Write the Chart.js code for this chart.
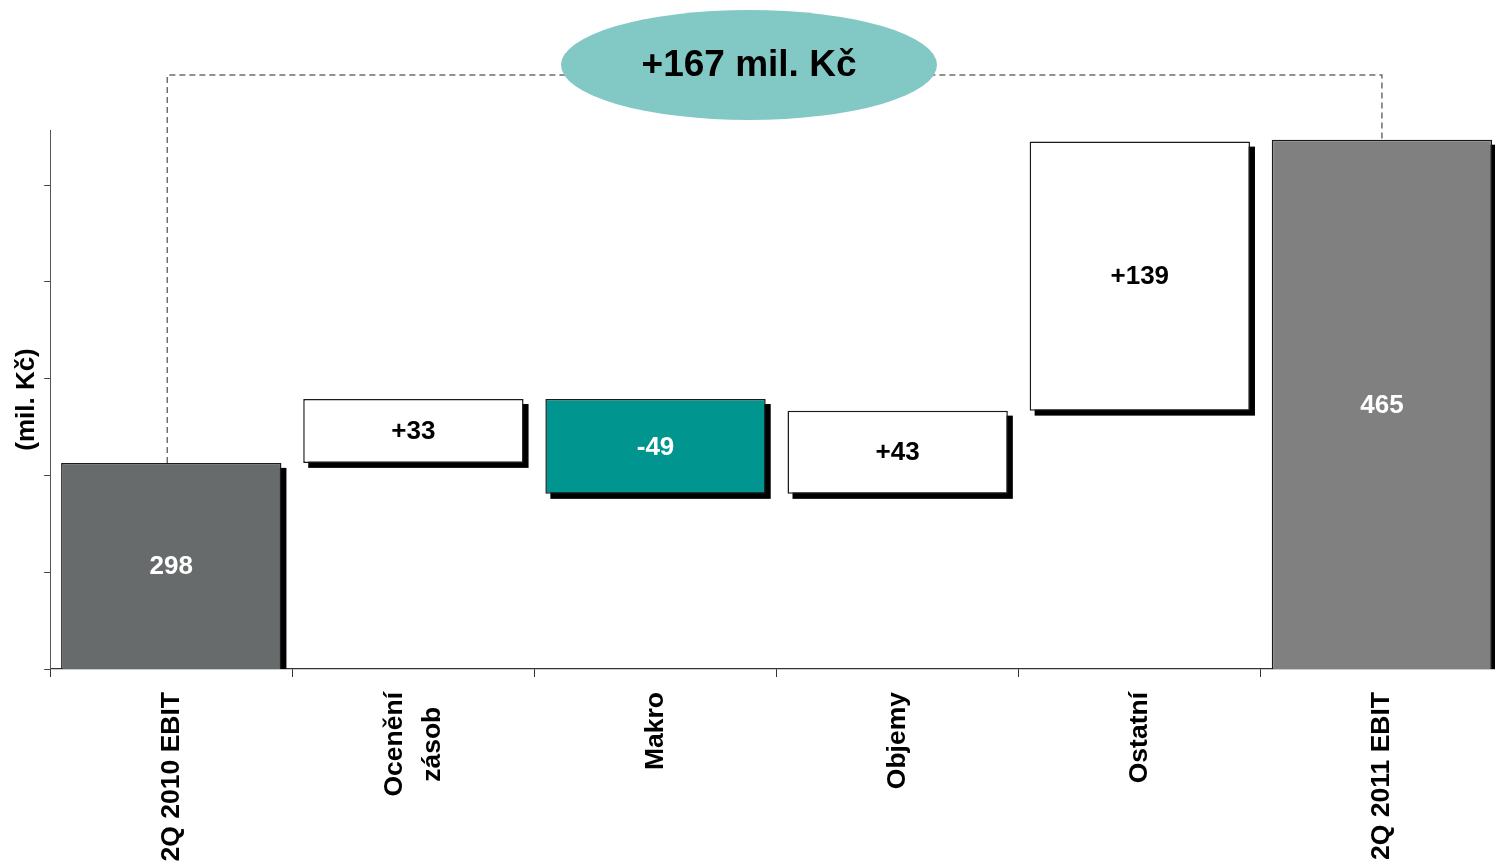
<!DOCTYPE html>
<html>
<head>
<meta charset="utf-8">
<script src="https://cdn.jsdelivr.net/npm/chart.js@4.4.1/dist/chart.umd.min.js"></script>
<style>
  html, body { margin: 0; padding: 0; background: #fff; overflow: hidden; }
  canvas { display: block; }
</style>
</head>
<body>
<canvas id="chart" width="1505" height="865"></canvas>
<script>
// Data
const categories = ['2Q 2010 EBIT', ['Ocenění', 'zásob'], 'Makro', 'Objemy', 'Ostatní', '2Q 2011 EBIT'];
const startValue = 298;
const endValue = 465;
const changes = [33, -49, 43, 139];
const barLabels = ['298', '+33', '-49', '+43', '+139', '465'];
const yAxisTitle = '(mil. Kč)';
const badgeText = '+167 mil. Kč';

// Value axis window (the original chart uses a cut axis)
const yMin = 191.5;
const yMax = 470;
const yStep = 50;

// Colours
const barColors = ['#676b6c', '#ffffff', '#00968f', '#ffffff', '#ffffff', '#808080'];
const labelColors = ['#ffffff', '#000000', '#ffffff', '#000000', '#000000', '#ffffff'];

const FONT = '"Liberation Sans", Arial, sans-serif';

// Turn start / changes / end into bar values (floating for the changes)
function buildWaterfall() {
  const out = [startValue];
  let level = startValue;
  changes.forEach(d => {
    out.push([level, level + d]);
    level += d;
  });
  out.push(endValue);
  return out;
}

// Black drop shadow behind every bar
const shadowPlugin = {
  id: 'barShadow',
  beforeDatasetsDraw(chart) {
    const { ctx, chartArea } = chart;
    ctx.save();
    ctx.beginPath();
    ctx.rect(chartArea.left, chartArea.top - 10, chartArea.right - chartArea.left + 20, chartArea.bottom - chartArea.top + 10);
    ctx.clip();
    ctx.fillStyle = '#000';
    chart.getDatasetMeta(0).data.forEach(bar => {
      const { x, y, base, width } = bar.getProps(['x', 'y', 'base', 'width'], true);
      const top = Math.min(y, base);
      const bottom = Math.max(y, base);
      ctx.fillRect(x - width / 2 + 5, top + 5, width, bottom - top);
    });
    ctx.restore();
  }
};

// Numbers inside the bars
const valueLabelPlugin = {
  id: 'valueLabels',
  afterDatasetsDraw(chart) {
    const { ctx, chartArea } = chart;
    ctx.save();
    ctx.font = 'bold 26px ' + FONT;
    ctx.textAlign = 'center';
    ctx.textBaseline = 'middle';
    chart.getDatasetMeta(0).data.forEach((bar, i) => {
      const { x, y, base } = bar.getProps(['x', 'y', 'base'], true);
      const top = Math.max(Math.min(y, base), chartArea.top);
      const bottom = Math.min(Math.max(y, base), chartArea.bottom);
      ctx.fillStyle = labelColors[i];
      ctx.fillText(barLabels[i], x, (top + bottom) / 2 + 1);
    });
    ctx.restore();
  }
};

// Category names, rotated, multi-line blocks centred on the tick
const xLabelPlugin = {
  id: 'xLabels',
  afterDraw(chart) {
    const { ctx, chartArea, scales } = chart;
    ctx.save();
    ctx.font = 'bold 26.5px ' + FONT;
    ctx.fillStyle = '#000';
    ctx.textAlign = 'center';
    ctx.textBaseline = 'middle';
    categories.forEach((label, i) => {
      const lines = [].concat(label);
      const widest = Math.max(...lines.map(l => ctx.measureText(l).width));
      ctx.save();
      ctx.translate(scales.x.getPixelForValue(i), chartArea.bottom + 23);
      ctx.rotate(-Math.PI / 2);
      lines.forEach((line, j) => {
        ctx.fillText(line, -widest / 2, (j - (lines.length - 1) / 2) * 38);
      });
      ctx.restore();
    });
    ctx.restore();
  }
};

// Dashed bridge between first and last bar, with the oval badge
const bridgePlugin = {
  id: 'bridge',
  afterDraw(chart) {
    const { ctx, chartArea } = chart;
    const bars = chart.getDatasetMeta(0).data;
    const first = bars[0];
    const last = bars[bars.length - 1];
    const lineY = chartArea.top - 55;
    ctx.save();
    ctx.strokeStyle = '#6e6e6e';
    ctx.lineWidth = 1.5;
    ctx.setLineDash([6, 4]);
    ctx.beginPath();
    ctx.moveTo(first.x - 4, first.y);
    ctx.lineTo(first.x - 4, lineY);
    ctx.lineTo(last.x, lineY);
    ctx.lineTo(last.x, last.y);
    ctx.stroke();

    const cx = chartArea.left + (chartArea.right - chartArea.left) * 0.481;
    const cy = chartArea.top - 65;
    ctx.setLineDash([]);
    ctx.fillStyle = '#82c9c5';
    ctx.beginPath();
    ctx.ellipse(cx, cy, 188, 55, 0, 0, Math.PI * 2);
    ctx.fill();
    ctx.fillStyle = '#000';
    ctx.font = 'bold 37px ' + FONT;
    ctx.textAlign = 'center';
    ctx.textBaseline = 'middle';
    ctx.fillText(badgeText, cx, cy + 1);
    ctx.restore();
  }
};

Chart.defaults.font.family = FONT;

new Chart(document.getElementById('chart'), {
  type: 'bar',
  data: {
    labels: categories,
    datasets: [{
      data: buildWaterfall(),
      backgroundColor: barColors,
      borderColor: '#1a1a1a',
      borderWidth: 1.5,
      borderSkipped: false,
      barPercentage: 0.91,
      categoryPercentage: 1
    }]
  },
  options: {
    responsive: false,
    animation: false,
    layout: { padding: { top: 130, right: 2, bottom: 0, left: 0 } },
    plugins: {
      legend: { display: false },
      tooltip: { enabled: false }
    },
    scales: {
      x: {
        grid: { drawOnChartArea: false, tickLength: 8, color: '#333', offset: true },
        border: { color: '#333', width: 1.2 },
        ticks: { display: false },
        afterFit: axis => { axis.height = 196; }
      },
      y: {
        min: yMin,
        max: yMax,
        afterBuildTicks: axis => {
          const ticks = [];
          for (let v = yMin; v <= yMax; v += yStep) ticks.push({ value: v });
          axis.ticks = ticks;
        },
        grid: { drawOnChartArea: false, tickLength: 6, color: '#444' },
        border: { color: '#555', width: 1 },
        ticks: { display: false },
        title: {
          display: true,
          text: yAxisTitle,
          color: '#000',
          font: { size: 26, weight: 'bold' },
          padding: { top: 11, bottom: 2 }
        }
      }
    }
  },
  plugins: [shadowPlugin, valueLabelPlugin, xLabelPlugin, bridgePlugin]
});
</script>
</body>
</html>
